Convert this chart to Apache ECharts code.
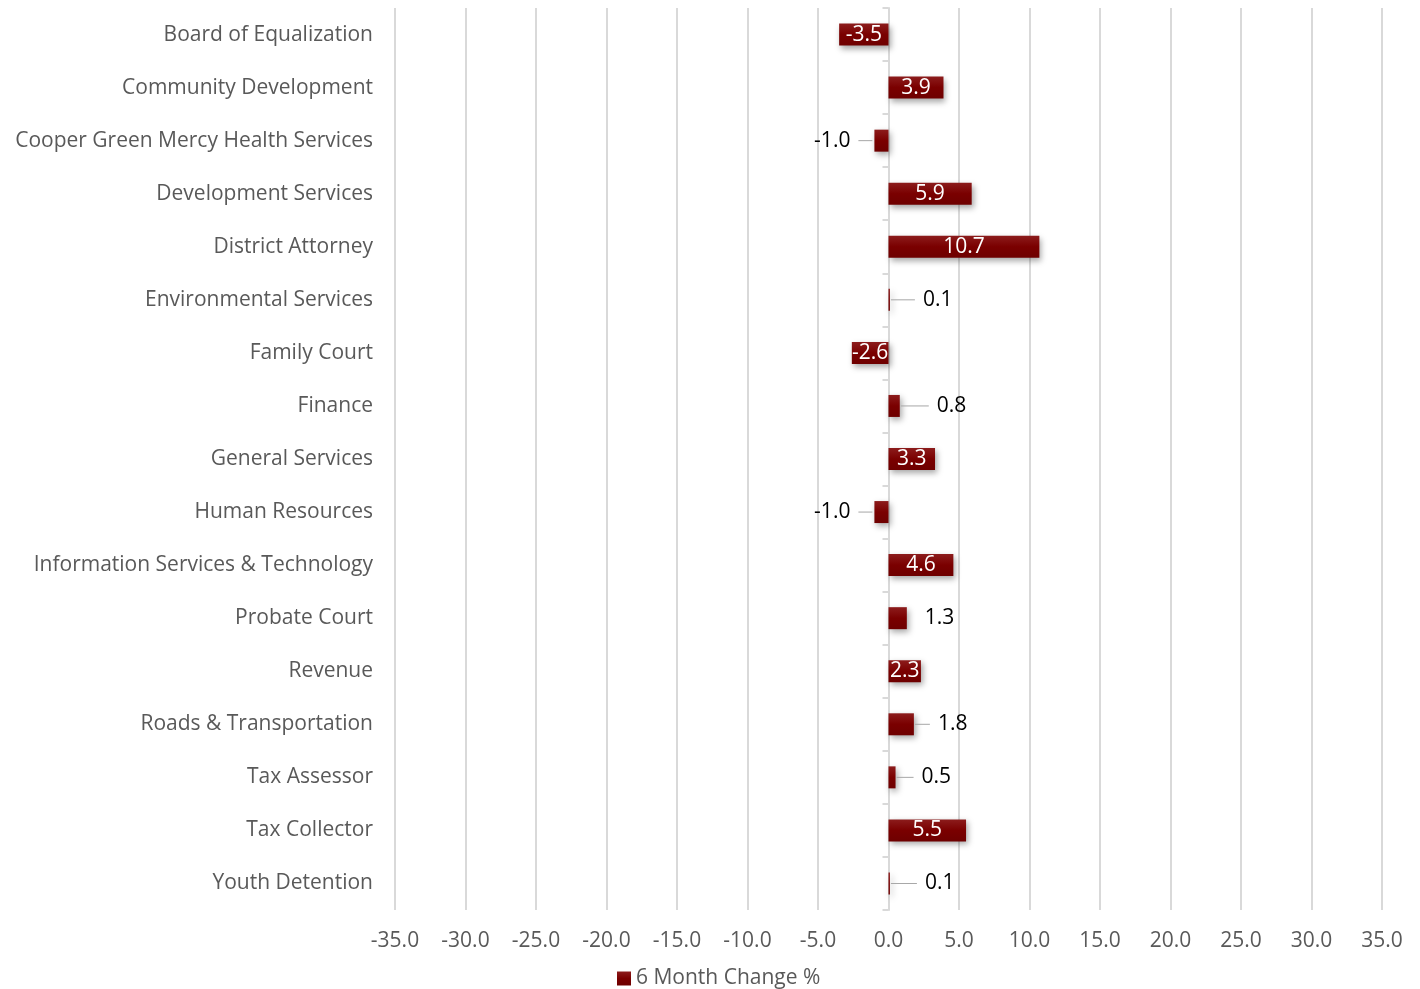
<!DOCTYPE html>
<html>
<head>
<meta charset="utf-8">
<script src="https://cdn.jsdelivr.net/npm/echarts@6/dist/echarts.min.js"></script>
<style>html,body{margin:0;padding:0;background:#fff}#c{width:1420px;height:989px}</style>
</head>
<body>
<div id="c"></div>
<script>
var categories = ["Board of Equalization","Community Development","Cooper Green Mercy Health Services","Development Services","District Attorney","Environmental Services","Family Court","Finance","General Services","Human Resources","Information Services & Technology","Probate Court","Revenue","Roads & Transportation","Tax Assessor","Tax Collector","Youth Detention"];
var values = [-3.5, 3.9, -1.0, 5.9, 10.7, 0.1, -2.6, 0.8, 3.3, -1.0, 4.6, 1.3, 2.3, 1.8, 0.5, 5.5, 0.1];
var seriesName = "6 Month Change %";
var xTicks = {min: -35, max: 35, interval: 5};

// label styling: 'in' = inside white, number = leader line length (outside), 0 = outside no line
var labelMode = ['in','in',14,'in','in',24,'in',28,'in',14,'in',0,'in',15,17,'in',26];

var FONT = '"Open Sans", sans-serif';
var FS = 21;
var data = values.map(function(v, i){
  var m = labelMode[i];
  var lbl;
  if (m === 'in') {
    lbl = {show: true, position: 'inside', color: '#fff', fontSize: FS, fontFamily: FONT,
      formatter: function(p){ return p.value.toFixed(1); }};
  } else if (m === 0) {
    lbl = {show: true, position: v < 0 ? 'left' : 'right', distance: 18, color: '#000', fontSize: FS, fontFamily: FONT,
      formatter: function(p){ return p.value.toFixed(1); }};
  } else {
    var neg = v < 0;
    lbl = {show: true, position: neg ? 'left' : 'right', distance: neg ? 2 : 1, color: '#000', fontSize: FS, fontFamily: FONT,
      formatter: neg ? ('{t|' + v.toFixed(1) + '}{g|}{ln|}') : ('{ln|}{g|}{t|' + v.toFixed(1) + '}'),
      rich: {
        t: {color: '#000', fontSize: FS, fontFamily: FONT},
        g: {width: 8},
        ln: {width: m, height: 1, backgroundColor: '#a6a6a6'}
      }};
  }
  return {value: v, label: lbl};
});

var chart = echarts.init(document.getElementById('c'));
chart.setOption({
  animation: false,
  grid: {left: 395, right: 38, top: 8, bottom: 79, containLabel: false},
  legend: {
    bottom: -5, left: 612, itemWidth: 14, itemHeight: 14, itemGap: 6,
    icon: 'rect',
    textStyle: {color: '#595959', fontSize: FS, fontFamily: FONT},
    data: [seriesName]
  },
  xAxis: {
    type: 'value', min: xTicks.min, max: xTicks.max, interval: xTicks.interval,
    axisLine: {show: false}, axisTick: {show: false},
    splitLine: {show: true, lineStyle: {color: '#d9d9d9', width: 2}},
    axisLabel: {color: '#595959', fontSize: FS, fontFamily: FONT, margin: 21,
      formatter: function(v){ return v.toFixed(1); }}
  },
  yAxis: [{
    type: 'category', data: categories, inverse: true,
    axisLine: {show: false, onZero: false}, axisTick: {show: false},
    axisLabel: {color: '#595959', fontSize: FS, fontFamily: FONT, margin: 22}
  }, {
    type: 'category', data: categories, inverse: true, position: 'left',
    axisLine: {show: true, onZero: true, lineStyle: {color: '#d9d9d9', width: 2}},
    axisTick: {show: true, length: 6, lineStyle: {color: '#d9d9d9', width: 2}},
    axisLabel: {show: false}
  }],
  series: [{
    name: seriesName, type: 'bar', yAxisIndex: 0, barWidth: 22,
    itemStyle: {
      color: new echarts.graphic.LinearGradient(0, 0, 0, 1, [
        {offset: 0, color: '#8c1c1c'}, {offset: 0.5, color: '#7a0000'}, {offset: 1, color: '#6e0000'}
      ]),
      shadowColor: 'rgba(0,0,0,0.35)', shadowBlur: 6, shadowOffsetX: 2, shadowOffsetY: 3
    },
    data: data
  }]
});
</script>
</body>
</html>
